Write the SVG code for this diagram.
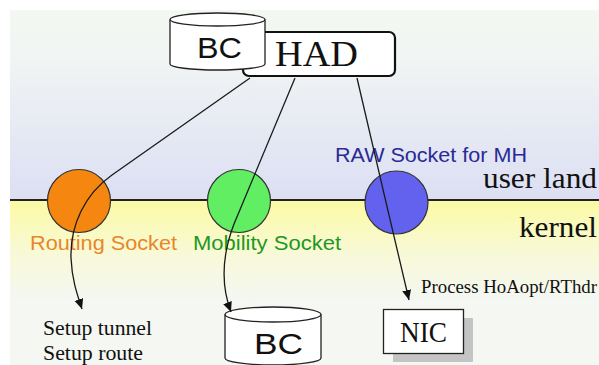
<svg xmlns="http://www.w3.org/2000/svg" width="599" height="365" viewBox="0 0 599 365">
<defs>
<linearGradient id="gUser" x1="0" y1="0" x2="0" y2="1">
<stop offset="0" stop-color="#f4f8f2"/>
<stop offset="0.2" stop-color="#f2f6f3"/>
<stop offset="1" stop-color="#dcdff3"/>
</linearGradient>
<linearGradient id="gKernel" x1="0" y1="0" x2="0" y2="1">
<stop offset="0" stop-color="#fbfaa4"/>
<stop offset="0.55" stop-color="#f8f9d8"/>
<stop offset="1" stop-color="#f4f7f2"/>
</linearGradient>
<marker id="arr" markerUnits="userSpaceOnUse" markerWidth="11" markerHeight="10" refX="10" refY="4.5" orient="auto">
<path d="M0,0 L10,4.5 L0,9 z" fill="#111"/>
</marker>
<style>
.conn{fill:none;stroke:#1a1a1a;stroke-width:1.3;marker-end:url(#arr)}
.cyl{fill:#fff;stroke:#222;stroke-width:1.3}
.sock{stroke:#333;stroke-width:1.2}
.sans{font-family:"Liberation Sans",Arial,sans-serif}
.serif{font-family:"Liberation Serif","Times New Roman",serif;fill:#111}
</style>
</defs>
<rect x="0" y="0" width="599" height="365" fill="#ffffff"/>
<rect x="10" y="10" width="589" height="190" fill="url(#gUser)"/>
<rect x="10" y="200" width="589" height="100" fill="url(#gKernel)"/>
<rect x="10" y="300" width="589" height="65" fill="#f4f7f2"/>
<line x1="10" y1="200" x2="599" y2="200" stroke="#222" stroke-width="2"/>
<text class="serif" x="483" y="188" font-size="30" textLength="114" lengthAdjust="spacingAndGlyphs">user land</text>
<text class="serif" x="519" y="237" font-size="30" textLength="78" lengthAdjust="spacingAndGlyphs">kernel</text>

<g id="had">
<rect x="243" y="32" width="152" height="44" rx="6" fill="#fff" stroke="#111" stroke-width="2.2"/>
<text class="serif" x="316.5" y="66" font-size="36" text-anchor="middle" textLength="83" lengthAdjust="spacingAndGlyphs">HAD</text>
</g>
<g id="bc-top">
<path class="cyl" d="M170,19.5 L170,64 A47.5,6 0 0 0 265,64 L265,19.5"/>
<ellipse class="cyl" cx="217.5" cy="19.5" rx="47.5" ry="6.5"/>
<text class="sans" x="219.5" y="58" font-size="30" text-anchor="middle" fill="#111" textLength="45" lengthAdjust="spacingAndGlyphs">BC</text>
</g>

<g id="routing-socket">
<circle class="sock" cx="79" cy="201" r="31.5" fill="#f58710"/>
<text class="sans" x="30" y="250" font-size="20" fill="#e8862a" textLength="147" lengthAdjust="spacingAndGlyphs">Routing Socket</text>
</g>
<g id="mobility-socket">
<circle class="sock" cx="239" cy="201" r="31.5" fill="#62ee62"/>
<text class="sans" x="193" y="250" font-size="20" fill="#1e981e" textLength="148" lengthAdjust="spacingAndGlyphs">Mobility Socket</text>
</g>
<g id="raw-socket">
<circle class="sock" cx="396.5" cy="202.5" r="31.5" fill="#6262ee"/>
<text class="sans" x="335" y="162" font-size="20" fill="#2a2a96" textLength="192" lengthAdjust="spacingAndGlyphs">RAW Socket for MH</text>
</g>

<g id="setup">
<text class="serif" x="43" y="335" font-size="21" textLength="109" lengthAdjust="spacingAndGlyphs">Setup tunnel</text>
<text class="serif" x="43" y="360" font-size="21" textLength="100" lengthAdjust="spacingAndGlyphs">Setup route</text>
</g>
<g id="bc-bottom">
<path class="cyl" d="M225,314.5 L225,358 A48,7 0 0 0 321,358 L321,314.5"/>
<ellipse class="cyl" cx="273" cy="314.5" rx="48" ry="7.5"/>
<text class="sans" x="278.5" y="354" font-size="30" text-anchor="middle" fill="#111" textLength="49" lengthAdjust="spacingAndGlyphs">BC</text>
</g>
<g id="nic">
<rect x="393" y="318" width="80" height="44" fill="#c4c4c4"/>
<rect x="383.5" y="309.5" width="80" height="44" fill="#fff" stroke="#222" stroke-width="1.3"/>
<text class="serif" x="423.5" y="342" font-size="29" text-anchor="middle" textLength="47" lengthAdjust="spacingAndGlyphs">NIC</text>
</g>
<text class="serif" x="421" y="293" font-size="18" textLength="176" lengthAdjust="spacingAndGlyphs">Process HoAopt/RThdr</text>

<g id="connectors">
<path class="conn" d="M250,78 L112,175 C85,194 70,225 71,258 C72,280 77,294 82,309"/>
<path class="conn" d="M295,78 L234,224 C224,250 219,280 231,312"/>
<path class="conn" d="M357,78 C372,140 392,230 409,300"/>
</g>
</svg>
